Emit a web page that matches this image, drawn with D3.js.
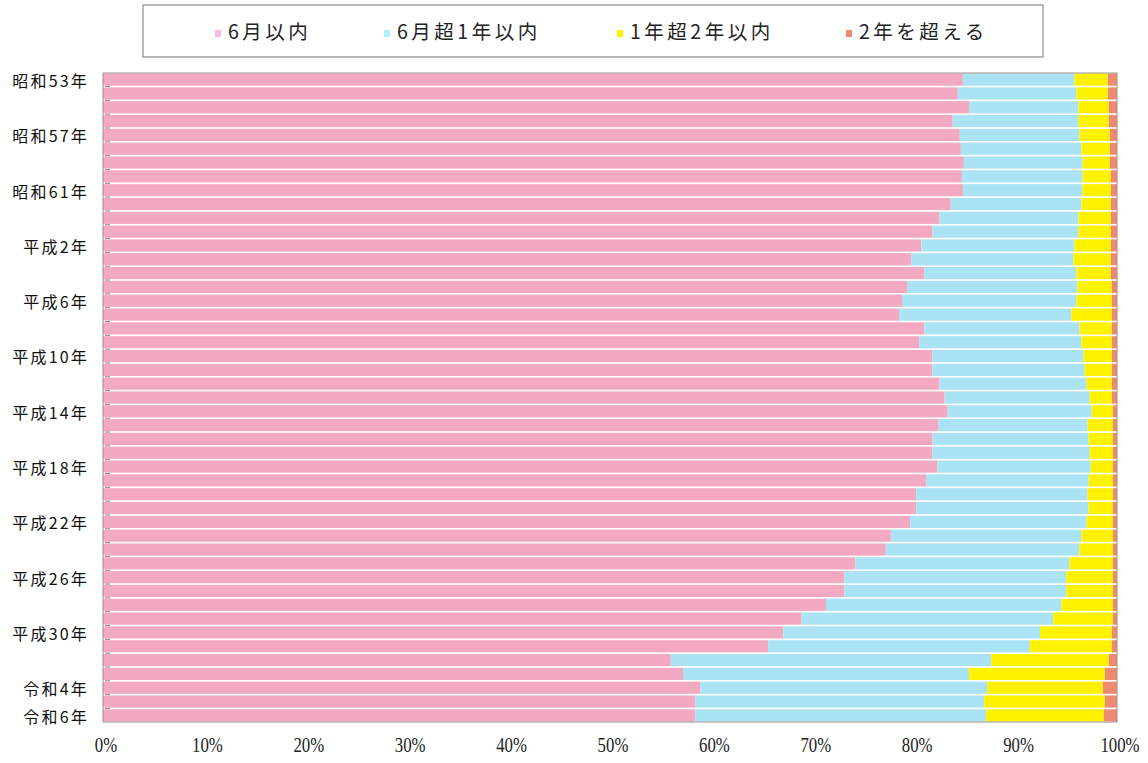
<!DOCTYPE html>
<html><head><meta charset="utf-8">
<script src="https://cdn.jsdelivr.net/npm/d3@7/dist/d3.min.js"></script>
<style>body{margin:0;background:#fff;}svg{display:block;}</style>
</head><body>
<svg id="chart" width="1148" height="763"></svg>
<script>
const categories = [
"昭和53年","昭和54年","昭和55年","昭和56年","昭和57年","昭和58年","昭和59年","昭和60年","昭和61年","昭和62年","昭和63年",
"平成元年","平成2年","平成3年","平成4年","平成5年","平成6年","平成7年","平成8年","平成9年","平成10年",
"平成11年","平成12年","平成13年","平成14年","平成15年","平成16年","平成17年","平成18年","平成19年","平成20年",
"平成21年","平成22年","平成23年","平成24年","平成25年","平成26年","平成27年","平成28年","平成29年","平成30年",
"令和元年","令和2年","令和3年","令和4年","令和5年","令和6年"];
const shownLabels = ["昭和53年","昭和57年","昭和61年","平成2年","平成6年","平成10年","平成14年","平成18年","平成22年","平成26年","平成30年","令和4年","令和6年"];
const seriesNames = ["6月以内","6月超1年以内","1年超2年以内","2年を超える"];
const within6m = [84.8,84.3,85.4,83.8,84.5,84.6,84.9,84.7,84.8,83.6,82.5,81.8,80.7,79.7,81.0,79.3,78.8,78.5,81.0,80.5,81.8,81.8,82.5,83.0,83.3,82.4,81.8,81.8,82.3,81.2,80.2,80.2,79.6,77.7,77.2,74.2,73.1,73.1,71.3,68.9,67.1,65.6,56.0,57.2,58.9,58.4,58.4];
const m6to1y = [11.0,11.7,10.8,12.4,11.8,11.9,11.7,11.9,11.8,12.9,13.7,14.4,15.1,16.0,15.0,16.8,17.2,17.0,15.3,16.0,14.9,15.0,14.5,14.3,14.2,14.7,15.4,15.5,15.1,16.0,16.9,17.0,17.4,18.8,19.1,21.1,21.9,21.9,23.2,24.8,25.3,25.8,31.6,28.2,28.3,28.5,28.7];
const y1to2y = [3.3,3.1,3.0,3.0,3.0,2.8,2.7,2.8,2.8,2.9,3.2,3.2,3.6,3.7,3.4,3.4,3.5,4.0,3.2,3.0,2.8,2.7,2.5,2.2,2.1,2.5,2.4,2.3,2.2,2.4,2.5,2.4,2.6,3.1,3.3,4.3,4.6,4.6,5.1,5.9,7.1,8.1,11.6,13.4,11.4,11.9,11.6];
const over2y = [0.9,0.9,0.8,0.8,0.7,0.7,0.7,0.6,0.6,0.6,0.6,0.6,0.6,0.6,0.6,0.5,0.5,0.5,0.5,0.5,0.5,0.5,0.5,0.5,0.4,0.4,0.4,0.4,0.4,0.4,0.4,0.4,0.4,0.4,0.4,0.4,0.4,0.4,0.4,0.4,0.5,0.5,0.8,1.2,1.4,1.2,1.3];
const xTicks = [0,10,20,30,40,50,60,70,80,90,100];

const colors = ["#F4A9C2","#AAE3F3","#FFF200","#EE8A72"];
const markerColors = ["#F2BDE0","#B5F0F0","#FFF200","#EE8A72"];
const keys = ["a","b","c","d"];
const rows = categories.map((c,i)=>({cat:c,a:within6m[i],b:m6to1y[i],c:y1to2y[i],d:over2y[i]}));

const svg = d3.select("#chart");
const L=103,R=1117,T=73,B=722;
const x = d3.scaleLinear().domain([0,100]).range([L,R]);
const y = d3.scaleBand().domain(categories).range([T,B]).paddingInner(0.12).paddingOuter(0.04);

const layers = d3.stack().keys(keys)(rows);

svg.append("g").selectAll("g").data(layers).join("g")
  .attr("fill",(d,i)=>colors[i])
  .selectAll("rect").data(d=>d).join("rect")
  .attr("x",d=>x(d[0]))
  .attr("y",d=>y(d.data.cat))
  .attr("width",d=>Math.max(0,x(Math.min(100,d[1]))-x(d[0])))
  .attr("height",y.bandwidth());

// plot frame
svg.append("rect").attr("x",L).attr("y",T).attr("width",R-L).attr("height",B-T)
  .attr("fill","none").attr("stroke","#9a8f8a").attr("stroke-width",1);

// left axis ticks at band boundaries
const step = y.step();
const bounds = categories.map(c=>y(c)-step*y.paddingInner()/2);
svg.append("g").selectAll("line").data(bounds.slice(1)).join("line")
  .attr("x1",L+2).attr("x2",L+7).attr("y1",d=>d).attr("y2",d=>d)
  .attr("stroke","#8a7f7f").attr("stroke-width",1);

// y labels
svg.append("g").selectAll("text").data(shownLabels).join("text")
  .attr("x",89).attr("y",d=>y(d)+y.bandwidth()/2+3)
  .attr("text-anchor","end").attr("dominant-baseline","middle")
  .attr("font-family","'Noto Sans CJK JP'").attr("font-size",16)
  .attr("letter-spacing","2.2px")
  .attr("fill","#111").text(d=>d);

// x tick labels
svg.append("g").selectAll("text").data(xTicks).join("text")
  .attr("transform",d=>`translate(${x(d)+3},752) scale(0.8,1)`)
  .attr("text-anchor","middle")
  .attr("font-family","'Liberation Serif'").attr("font-size",21)
  .attr("fill","#222").text(d=>d+"%");

// legend
const lg = svg.append("g");
lg.append("rect").attr("x",143).attr("y",5).attr("width",900).attr("height",52)
  .attr("fill","#fff").attr("stroke","#8c8c8c").attr("stroke-width",1.2);
const legX = [215,384,617,846];
const li = lg.selectAll("g").data(seriesNames).join("g")
  .attr("transform",(d,i)=>`translate(${legX[i]},34)`);
li.append("rect").attr("x",0).attr("y",-4).attr("width",6).attr("height",7)
  .attr("fill",(d,i)=>markerColors[i]);
li.append("text").attr("x",13).attr("y",0).attr("dominant-baseline","middle")
  .attr("font-family","'Noto Sans CJK JP'").attr("font-size",19.5)
  .attr("letter-spacing","3.5px").attr("fill","#222").text(d=>d);
</script>
</body></html>
